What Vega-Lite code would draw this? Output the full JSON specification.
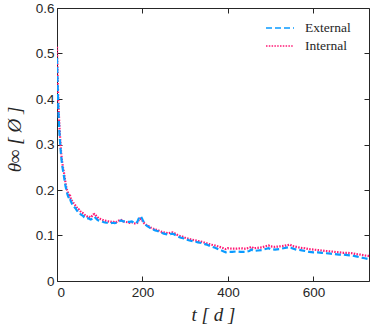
{
  "$schema": "https://vega.github.io/schema/vega-lite/v6.json",
  "width": 312,
  "height": 273,
  "autosize": {"type": "none"},
  "padding": {"left": 57, "top": 8, "right": 5, "bottom": 50},
  "background": "white",
  "config": {
    "view": {"stroke": null},
    "axis": {
      "grid": false,
      "domainColor": "#262626",
      "domainWidth": 1,
      "tickColor": "#262626",
      "tickWidth": 1,
      "tickSize": -5,
      "labelFont": "Liberation Sans",
      "labelFontSize": 13.5,
      "labelColor": "#262626",
      "titleFont": "Liberation Serif",
      "titleFontStyle": "italic",
      "titleFontWeight": "normal",
      "titleFontSize": 19,
      "titleColor": "#262626"
    }
  },
  "data": {"values": [
    {"s":"Internal","t":0,"v":0.515},{"s":"Internal","t":1,"v":0.47},{"s":"Internal","t":2,"v":0.43},{"s":"Internal","t":3,"v":0.4},{"s":"Internal","t":4,"v":0.375},{"s":"Internal","t":5,"v":0.355},{"s":"Internal","t":6,"v":0.335},{"s":"Internal","t":7,"v":0.32},{"s":"Internal","t":8,"v":0.305},{"s":"Internal","t":9,"v":0.29},{"s":"Internal","t":10,"v":0.28},{"s":"Internal","t":12,"v":0.262},{"s":"Internal","t":14,"v":0.25},{"s":"Internal","t":16,"v":0.24},{"s":"Internal","t":18,"v":0.228},{"s":"Internal","t":20,"v":0.215},{"s":"Internal","t":22,"v":0.205},{"s":"Internal","t":24,"v":0.198},{"s":"Internal","t":26,"v":0.193},{"s":"Internal","t":28,"v":0.188},{"s":"Internal","t":30,"v":0.19},{"s":"Internal","t":32,"v":0.182},{"s":"Internal","t":34,"v":0.178},{"s":"Internal","t":36,"v":0.175},{"s":"Internal","t":38,"v":0.172},{"s":"Internal","t":40,"v":0.17},{"s":"Internal","t":43,"v":0.166},{"s":"Internal","t":46,"v":0.162},{"s":"Internal","t":49,"v":0.158},{"s":"Internal","t":52,"v":0.157},{"s":"Internal","t":55,"v":0.153},{"s":"Internal","t":58,"v":0.15},{"s":"Internal","t":61,"v":0.149},{"s":"Internal","t":64,"v":0.146},{"s":"Internal","t":67,"v":0.144},{"s":"Internal","t":70,"v":0.142},{"s":"Internal","t":73,"v":0.143},{"s":"Internal","t":76,"v":0.141},{"s":"Internal","t":79,"v":0.14},{"s":"Internal","t":82,"v":0.143},{"s":"Internal","t":85,"v":0.146},{"s":"Internal","t":88,"v":0.147},{"s":"Internal","t":91,"v":0.144},{"s":"Internal","t":94,"v":0.141},{"s":"Internal","t":97,"v":0.138},{"s":"Internal","t":100,"v":0.137},{"s":"Internal","t":105,"v":0.135},{"s":"Internal","t":110,"v":0.133},{"s":"Internal","t":115,"v":0.132},{"s":"Internal","t":120,"v":0.131},{"s":"Internal","t":125,"v":0.13},{"s":"Internal","t":130,"v":0.131},{"s":"Internal","t":135,"v":0.129},{"s":"Internal","t":140,"v":0.13},{"s":"Internal","t":145,"v":0.133},{"s":"Internal","t":150,"v":0.134},{"s":"Internal","t":155,"v":0.131},{"s":"Internal","t":160,"v":0.13},{"s":"Internal","t":165,"v":0.129},{"s":"Internal","t":170,"v":0.128},{"s":"Internal","t":175,"v":0.129},{"s":"Internal","t":180,"v":0.127},{"s":"Internal","t":185,"v":0.126},{"s":"Internal","t":188,"v":0.128},{"s":"Internal","t":191,"v":0.133},{"s":"Internal","t":194,"v":0.137},{"s":"Internal","t":197,"v":0.136},{"s":"Internal","t":200,"v":0.132},{"s":"Internal","t":204,"v":0.127},{"s":"Internal","t":208,"v":0.124},{"s":"Internal","t":212,"v":0.121},{"s":"Internal","t":216,"v":0.12},{"s":"Internal","t":220,"v":0.117},{"s":"Internal","t":225,"v":0.115},{"s":"Internal","t":230,"v":0.113},{"s":"Internal","t":235,"v":0.112},{"s":"Internal","t":240,"v":0.11},{"s":"Internal","t":245,"v":0.108},{"s":"Internal","t":250,"v":0.107},{"s":"Internal","t":255,"v":0.106},{"s":"Internal","t":260,"v":0.105},{"s":"Internal","t":265,"v":0.106},{"s":"Internal","t":270,"v":0.107},{"s":"Internal","t":275,"v":0.105},{"s":"Internal","t":280,"v":0.102},{"s":"Internal","t":285,"v":0.1},{"s":"Internal","t":290,"v":0.098},{"s":"Internal","t":295,"v":0.097},{"s":"Internal","t":300,"v":0.095},{"s":"Internal","t":310,"v":0.092},{"s":"Internal","t":320,"v":0.09},{"s":"Internal","t":330,"v":0.088},{"s":"Internal","t":340,"v":0.086},{"s":"Internal","t":350,"v":0.083},{"s":"Internal","t":360,"v":0.08},{"s":"Internal","t":370,"v":0.078},{"s":"Internal","t":380,"v":0.075},{"s":"Internal","t":390,"v":0.072},{"s":"Internal","t":395,"v":0.07},{"s":"Internal","t":400,"v":0.072},{"s":"Internal","t":410,"v":0.071},{"s":"Internal","t":420,"v":0.071},{"s":"Internal","t":430,"v":0.072},{"s":"Internal","t":440,"v":0.071},{"s":"Internal","t":450,"v":0.073},{"s":"Internal","t":455,"v":0.075},{"s":"Internal","t":460,"v":0.072},{"s":"Internal","t":470,"v":0.073},{"s":"Internal","t":480,"v":0.074},{"s":"Internal","t":490,"v":0.077},{"s":"Internal","t":495,"v":0.078},{"s":"Internal","t":500,"v":0.076},{"s":"Internal","t":510,"v":0.075},{"s":"Internal","t":520,"v":0.076},{"s":"Internal","t":530,"v":0.077},{"s":"Internal","t":540,"v":0.079},{"s":"Internal","t":545,"v":0.08},{"s":"Internal","t":550,"v":0.077},{"s":"Internal","t":560,"v":0.075},{"s":"Internal","t":570,"v":0.073},{"s":"Internal","t":580,"v":0.072},{"s":"Internal","t":590,"v":0.07},{"s":"Internal","t":600,"v":0.069},{"s":"Internal","t":610,"v":0.068},{"s":"Internal","t":620,"v":0.067},{"s":"Internal","t":630,"v":0.066},{"s":"Internal","t":640,"v":0.065},{"s":"Internal","t":650,"v":0.064},{"s":"Internal","t":660,"v":0.063},{"s":"Internal","t":670,"v":0.062},{"s":"Internal","t":680,"v":0.062},{"s":"Internal","t":690,"v":0.061},{"s":"Internal","t":700,"v":0.059},{"s":"Internal","t":710,"v":0.058},{"s":"Internal","t":720,"v":0.056},{"s":"Internal","t":730,"v":0.055},
    {"s":"External","t":0,"v":0.49},{"s":"External","t":1,"v":0.45},{"s":"External","t":2,"v":0.415},{"s":"External","t":3,"v":0.385},{"s":"External","t":4,"v":0.36},{"s":"External","t":5,"v":0.34},{"s":"External","t":6,"v":0.322},{"s":"External","t":7,"v":0.308},{"s":"External","t":8,"v":0.295},{"s":"External","t":9,"v":0.282},{"s":"External","t":10,"v":0.272},{"s":"External","t":12,"v":0.255},{"s":"External","t":14,"v":0.243},{"s":"External","t":16,"v":0.232},{"s":"External","t":18,"v":0.22},{"s":"External","t":20,"v":0.208},{"s":"External","t":22,"v":0.2},{"s":"External","t":24,"v":0.192},{"s":"External","t":26,"v":0.186},{"s":"External","t":28,"v":0.182},{"s":"External","t":30,"v":0.184},{"s":"External","t":32,"v":0.176},{"s":"External","t":34,"v":0.172},{"s":"External","t":36,"v":0.168},{"s":"External","t":38,"v":0.166},{"s":"External","t":40,"v":0.163},{"s":"External","t":43,"v":0.16},{"s":"External","t":46,"v":0.156},{"s":"External","t":49,"v":0.152},{"s":"External","t":52,"v":0.151},{"s":"External","t":55,"v":0.147},{"s":"External","t":58,"v":0.145},{"s":"External","t":61,"v":0.143},{"s":"External","t":64,"v":0.14},{"s":"External","t":67,"v":0.138},{"s":"External","t":70,"v":0.137},{"s":"External","t":73,"v":0.138},{"s":"External","t":76,"v":0.136},{"s":"External","t":79,"v":0.135},{"s":"External","t":82,"v":0.137},{"s":"External","t":85,"v":0.14},{"s":"External","t":88,"v":0.141},{"s":"External","t":91,"v":0.138},{"s":"External","t":94,"v":0.135},{"s":"External","t":97,"v":0.133},{"s":"External","t":100,"v":0.132},{"s":"External","t":105,"v":0.131},{"s":"External","t":110,"v":0.129},{"s":"External","t":115,"v":0.128},{"s":"External","t":120,"v":0.128},{"s":"External","t":125,"v":0.127},{"s":"External","t":130,"v":0.128},{"s":"External","t":135,"v":0.127},{"s":"External","t":140,"v":0.128},{"s":"External","t":145,"v":0.131},{"s":"External","t":150,"v":0.133},{"s":"External","t":155,"v":0.131},{"s":"External","t":160,"v":0.131},{"s":"External","t":165,"v":0.13},{"s":"External","t":170,"v":0.13},{"s":"External","t":175,"v":0.131},{"s":"External","t":180,"v":0.128},{"s":"External","t":185,"v":0.127},{"s":"External","t":188,"v":0.13},{"s":"External","t":191,"v":0.137},{"s":"External","t":194,"v":0.142},{"s":"External","t":197,"v":0.141},{"s":"External","t":200,"v":0.135},{"s":"External","t":204,"v":0.128},{"s":"External","t":208,"v":0.123},{"s":"External","t":212,"v":0.12},{"s":"External","t":216,"v":0.118},{"s":"External","t":220,"v":0.115},{"s":"External","t":225,"v":0.113},{"s":"External","t":230,"v":0.111},{"s":"External","t":235,"v":0.11},{"s":"External","t":240,"v":0.108},{"s":"External","t":245,"v":0.106},{"s":"External","t":250,"v":0.104},{"s":"External","t":255,"v":0.103},{"s":"External","t":260,"v":0.102},{"s":"External","t":265,"v":0.103},{"s":"External","t":270,"v":0.104},{"s":"External","t":275,"v":0.102},{"s":"External","t":280,"v":0.099},{"s":"External","t":285,"v":0.097},{"s":"External","t":290,"v":0.095},{"s":"External","t":295,"v":0.094},{"s":"External","t":300,"v":0.092},{"s":"External","t":310,"v":0.089},{"s":"External","t":320,"v":0.087},{"s":"External","t":330,"v":0.085},{"s":"External","t":340,"v":0.083},{"s":"External","t":350,"v":0.08},{"s":"External","t":360,"v":0.076},{"s":"External","t":370,"v":0.073},{"s":"External","t":380,"v":0.069},{"s":"External","t":390,"v":0.065},{"s":"External","t":395,"v":0.063},{"s":"External","t":400,"v":0.064},{"s":"External","t":410,"v":0.064},{"s":"External","t":420,"v":0.065},{"s":"External","t":430,"v":0.064},{"s":"External","t":440,"v":0.064},{"s":"External","t":450,"v":0.066},{"s":"External","t":455,"v":0.069},{"s":"External","t":460,"v":0.066},{"s":"External","t":470,"v":0.067},{"s":"External","t":480,"v":0.068},{"s":"External","t":490,"v":0.071},{"s":"External","t":495,"v":0.072},{"s":"External","t":500,"v":0.07},{"s":"External","t":510,"v":0.069},{"s":"External","t":520,"v":0.07},{"s":"External","t":530,"v":0.072},{"s":"External","t":540,"v":0.074},{"s":"External","t":545,"v":0.075},{"s":"External","t":550,"v":0.072},{"s":"External","t":560,"v":0.069},{"s":"External","t":570,"v":0.068},{"s":"External","t":580,"v":0.066},{"s":"External","t":590,"v":0.064},{"s":"External","t":600,"v":0.063},{"s":"External","t":610,"v":0.063},{"s":"External","t":620,"v":0.062},{"s":"External","t":630,"v":0.061},{"s":"External","t":640,"v":0.06},{"s":"External","t":650,"v":0.059},{"s":"External","t":660,"v":0.058},{"s":"External","t":670,"v":0.058},{"s":"External","t":680,"v":0.057},{"s":"External","t":690,"v":0.056},{"s":"External","t":700,"v":0.054},{"s":"External","t":710,"v":0.052},{"s":"External","t":720,"v":0.05},{"s":"External","t":730,"v":0.048}
  ]},
  "layer": [
    {
      "mark": {"type": "line", "strokeWidth": 2.2, "clip": true},
      "encoding": {
        "x": {"field": "t", "type": "quantitative",
              "scale": {"domain": [0, 730], "nice": false, "zero": false},
              "axis": {"orient": "bottom", "values": [0, 200, 400, 600], "title": "t  [ d ]", "labelPadding": 9, "titleBaseline": "middle", "titleY": 33}},
        "y": {"field": "v", "type": "quantitative",
              "scale": {"domain": [0, 0.6], "nice": false},
              "axis": {"orient": "left", "values": [0, 0.1, 0.2, 0.3, 0.4, 0.5, 0.6], "labelExpr": "datum.value == 0 ? '0' : format(datum.value, '.1f')", "title": "θ∞  [ Ø ]", "labelPadding": 8, "titleBaseline": "middle", "titleX": -43, "titleY": 131}},
        "color": {"field": "s", "type": "nominal",
                  "scale": {"domain": ["External", "Internal"], "range": ["#0A9BFF", "#FF1A75"]},
                  "legend": {"orient": "none", "legendX": 215, "legendY": 12, "title": null, "padding": 0,
                             "symbolType": "M-2,0H2", "symbolSize": 196, "symbolStrokeWidth": 1.5,
                             "labelFont": "Liberation Serif", "labelFontSize": 13.5, "labelColor": "#262626",
                             "labelOffset": 17, "rowPadding": 3}},
        "strokeDash": {"field": "s", "type": "nominal",
                       "scale": {"domain": ["External", "Internal"], "range": [[6, 3], [1.5, 1.3]]},
                       "legend": {"orient": "none", "legendX": 215, "legendY": 12, "title": null, "padding": 0,
                             "symbolType": "M-2,0H2", "symbolSize": 196, "symbolStrokeWidth": 1.5,
                             "labelFont": "Liberation Serif", "labelFontSize": 13.5, "labelColor": "#262626",
                             "labelOffset": 17, "rowPadding": 3}}
      }
    },
    {
      "mark": {"type": "point", "opacity": 0},
      "encoding": {
        "x": {"field": "t", "type": "quantitative",
              "axis": {"orient": "top", "values": [0, 200, 400, 600], "labels": false, "title": null}},
        "y": {"field": "v", "type": "quantitative",
              "axis": {"orient": "right", "values": [0, 0.1, 0.2, 0.3, 0.4, 0.5, 0.6], "labels": false, "title": null}}
      }
    }
  ],
  "resolve": {"axis": {"x": "independent", "y": "independent"}}
}
